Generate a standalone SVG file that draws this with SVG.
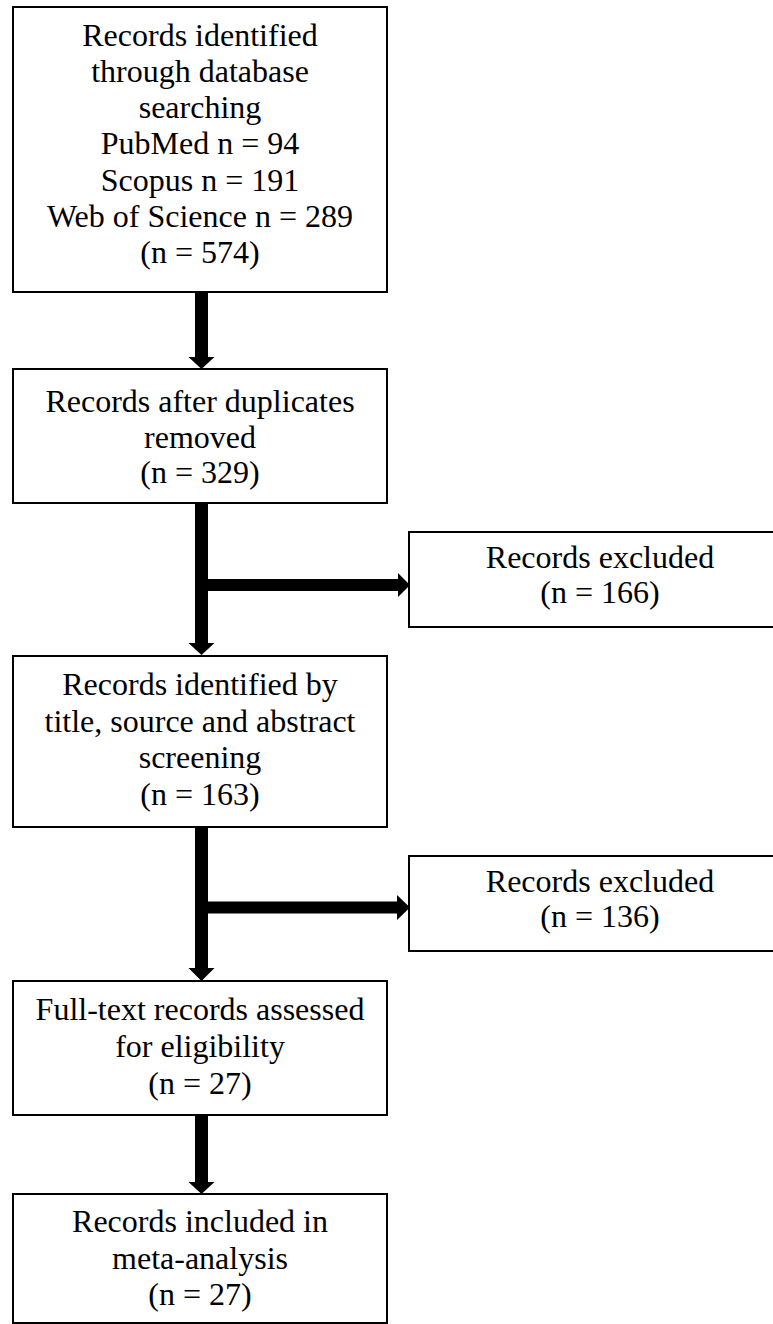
<svg xmlns="http://www.w3.org/2000/svg" width="773" height="1324" viewBox="0 0 773 1324" font-family="'Liberation Serif', 'Times New Roman', 'DejaVu Serif', serif">
<style>
.box{fill:#fff;stroke:#000;stroke-width:2}
.t{font-family:'Liberation Serif','Times New Roman','DejaVu Serif',serif;font-size:32px;fill:#000;text-anchor:middle}
.arr{fill:#000;stroke:none}
</style>
<rect width="773" height="1324" fill="#fff"/>
<g id="connectors">
<path class="arr" d="M195,292 H208 V357 H214.5 L201.5,369 L188.5,357 H195 Z"/>
<path class="arr" d="M195,503 H208 V643 H214.5 L201.5,655 L188.5,643 H195 Z"/>
<path class="arr" d="M207,579 H398 V573 L410,585 L398,597 V591 H207 Z"/>
<path class="arr" d="M195,827 H208 V968 H214.5 L201.5,981 L188.5,968 H195 Z"/>
<path class="arr" d="M207,901.5 H397 V895 L410,907.5 L397,920 V913.5 H207 Z"/>
<path class="arr" d="M195,1115 H208 V1182 H214.5 L201.5,1194 L188.5,1182 H195 Z"/>
</g>
<g id="n1">
<rect class="box" x="13" y="7" width="374" height="285"/>
<text class="t" x="200" y="45.5">Records identified</text>
<text class="t" x="200" y="81.8">through database</text>
<text class="t" x="200" y="118.1">searching</text>
<text class="t" x="200" y="154.4">PubMed n = 94</text>
<text class="t" x="200" y="190.7">Scopus n = 191</text>
<text class="t" x="200" y="227">Web of Science n = 289</text>
<text class="t" x="200" y="263.3">(n = 574)</text>
</g>
<g id="n2">
<rect class="box" x="13" y="369" width="374" height="134"/>
<text class="t" x="200" y="412">Records after duplicates</text>
<text class="t" x="200" y="447.5">removed</text>
<text class="t" x="200" y="483">(n = 329)</text>
</g>
<g id="n3">
<rect class="box" x="409" y="532" width="382" height="95"/>
<text class="t" x="600" y="568">Records excluded</text>
<text class="t" x="600" y="603">(n = 166)</text>
</g>
<g id="n4">
<rect class="box" x="13" y="656" width="374" height="171"/>
<text class="t" x="200" y="695">Records identified by</text>
<text class="t" x="200" y="731.5">title, source and abstract</text>
<text class="t" x="200" y="768">screening</text>
<text class="t" x="200" y="804.5">(n = 163)</text>
</g>
<g id="n5">
<rect class="box" x="409" y="856" width="382" height="95"/>
<text class="t" x="600" y="892">Records excluded</text>
<text class="t" x="600" y="927">(n = 136)</text>
</g>
<g id="n6">
<rect class="box" x="13" y="981" width="374" height="134"/>
<text class="t" x="200" y="1020">Full-text records assessed</text>
<text class="t" x="200" y="1057">for eligibility</text>
<text class="t" x="200" y="1094">(n = 27)</text>
</g>
<g id="n7">
<rect class="box" x="13" y="1194" width="374" height="129"/>
<text class="t" x="200" y="1232">Records included in</text>
<text class="t" x="200" y="1268.5">meta-analysis</text>
<text class="t" x="200" y="1305">(n = 27)</text>
</g>
</svg>
